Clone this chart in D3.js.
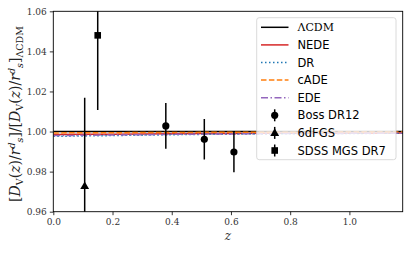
<!DOCTYPE html>
<html>
<head>
<meta charset="utf-8">
<script src="https://cdn.jsdelivr.net/npm/d3@7"></script>
<style>
body { margin: 0; background: #fff; }
text { font-family: "DejaVu Serif", "Liberation Serif", serif; }
</style>
</head>
<body>
<div id="chart-area"></div>
<script>
// model curves, ratio to LCDM
var zGrid = [0, 0.1, 0.2, 0.3, 0.4, 0.5, 0.6, 0.7, 0.8, 0.9, 1.0, 1.1, 1.2];
var lcdm  = [1, 1, 1, 1, 1, 1, 1, 1, 1, 1, 1, 1, 1];
var nede  = [0.9985, 0.9986, 0.9987, 0.9988, 0.9989, 0.999, 0.999, 0.9991, 0.9991, 0.9992, 0.9992, 0.9992, 0.9993];
var dr    = [0.9976, 0.9978, 0.998, 0.9982, 0.9984, 0.9986, 0.9987, 0.9988, 0.9989, 0.999, 0.999, 0.9991, 0.9991];
var cade  = [0.9993, 0.9994, 0.9994, 0.9995, 0.9995, 0.9996, 0.9996, 0.9997, 0.9997, 0.9997, 0.9998, 0.9998, 0.9998];
var ede   = [0.998, 0.9981, 0.9983, 0.9984, 0.9986, 0.9987, 0.9988, 0.9989, 0.999, 0.999, 0.9991, 0.9991, 0.9992];

// BAO data
var bossZ = [0.38, 0.51, 0.61];
var bossV = [1.0028, 0.9961, 0.9898];
var bossE = [0.0114, 0.0101, 0.0101];
var sixdfZ = [0.106], sixdfV = [0.9728], sixdfE = [0.044];
var mgsZ = [0.15], mgsV = [1.048], mgsE = [0.0373];

var xTicks = [0, 0.2, 0.4, 0.6, 0.8, 1.0];
var yTicks = [0.96, 0.98, 1.00, 1.02, 1.04, 1.06];

var W = 414, H = 254;
var svg = d3.select("#chart-area").append("svg")
	.attr("width", W)
	.attr("height", H);

var pL = 53.3, pR = 402.7, pT = 11.3, pB = 211.7;

var x = d3.scaleLinear().domain([0, 1.18]).range([pL, pR]);
var y = d3.scaleLinear().domain([0.96, 1.06]).range([pB, pT]);

var defs = svg.append("defs");
defs.append("clipPath").attr("id", "clip")
	.append("rect")
	.attr("x", pL).attr("y", pT)
	.attr("width", pR - pL).attr("height", pB - pT);

var plot = svg.append("g").attr("clip-path", "url(#clip)");

var models = [
	{name: "ΛCDM", vals: lcdm, color: "#000000", dash: null, w: 1.5},
	{name: "NEDE", vals: nede, color: "#d62728", dash: null, w: 1.5},
	{name: "DR", vals: dr, color: "#1f77b4", dash: "1.5,2.5", w: 1.5},
	{name: "cADE", vals: cade, color: "#ff7f0e", dash: "5.5,2.4", w: 1.5},
	{name: "EDE", vals: ede, color: "#9467bd", dash: "7,2.5,1.5,2.5", w: 1.5}
];

var line = d3.line()
	.x((d) => { return x(d[0]); })
	.y((d) => { return y(d[1]); });

models.forEach((m) => {
	plot.append("path")
		.attr("d", line(zGrid.map((z, i) => { return [z, m.vals[i]]; })))
		.attr("fill", "none")
		.attr("stroke", m.color)
		.attr("stroke-width", m.w)
		.attr("stroke-dasharray", m.dash);
});

function symbol(g, kind, cx, cy) {
	if (kind == "circle") {
		g.append("circle").attr("cx", cx).attr("cy", cy).attr("r", 3.6).attr("fill", "#000");
	} else if (kind == "triangle") {
		g.append("path").attr("d", d3.symbol().type(d3.symbolTriangle).size(34)())
			.attr("transform", "translate(" + cx + "," + (cy + 0.5) + ")").attr("fill", "#000");
	} else {
		g.append("rect").attr("x", cx - 3.3).attr("y", cy - 3.3)
			.attr("width", 6.6).attr("height", 6.6).attr("fill", "#000");
	}
}

var sets = [
	{name: "Boss DR12", z: bossZ, v: bossV, e: bossE, kind: "circle"},
	{name: "6dFGS", z: sixdfZ, v: sixdfV, e: sixdfE, kind: "triangle"},
	{name: "SDSS MGS DR7", z: mgsZ, v: mgsV, e: mgsE, kind: "square"}
];

sets.forEach((s) => {
	s.z.forEach((z, i) => {
		plot.append("line")
			.attr("x1", x(z)).attr("x2", x(z))
			.attr("y1", y(s.v[i] - s.e[i])).attr("y2", y(s.v[i] + s.e[i]))
			.attr("stroke", "#000").attr("stroke-width", 1.5);
		symbol(plot, s.kind, x(z), y(s.v[i]));
	});
});

// axes
var xAxis = d3.axisBottom(x).tickValues(xTicks).tickSize(3.5).tickPadding(3)
	.tickFormat(d3.format(".1f"));
var gx = svg.append("g")
	.attr("transform", "translate(0," + pB + ")")
	.call(xAxis);
var yAxis = d3.axisLeft(y).tickValues(yTicks).tickSize(3.5).tickPadding(3)
	.tickFormat(d3.format(".2f"));
var gy = svg.append("g")
	.attr("transform", "translate(" + pL + ",0)")
	.call(yAxis);
[gx, gy].forEach((g) => {
	g.select(".domain").remove();
	g.selectAll("line").attr("stroke", "#000").attr("stroke-width", 0.8);
	g.selectAll("text").attr("font-size", "9px").attr("fill", "#333")
		.style("font-family", "'DejaVu Serif', serif");
});

svg.append("rect")
	.attr("x", pL).attr("y", pT)
	.attr("width", pR - pL).attr("height", pB - pT)
	.attr("fill", "none").attr("stroke", "#000").attr("stroke-width", 0.9);

// axis labels
svg.append("text")
	.attr("x", (pL + pR) / 2)
	.attr("y", 240)
	.attr("text-anchor", "middle")
	.attr("font-size", "12px")
	.attr("font-style", "italic")
	.attr("fill", "#333")
	.text("z");

var yl = svg.append("text")
	.attr("transform", "translate(20," + 114 + ") rotate(-90)")
	.attr("text-anchor", "middle")
	.attr("fill", "#222")
	.attr("font-size", "14px");
function part(t, opts) {
	var s = yl.append("tspan").text(t);
	if (opts && opts.it) s.attr("font-style", "italic");
	if (opts && opts.dy) s.attr("dy", opts.dy);
	if (opts && opts.fs) s.attr("font-size", opts.fs);
	return s;
}
part("[");
part("D", {it: true});
part("V", {dy: 3, fs: "9.5px"});
part("(", {dy: -3});
part("z", {it: true});
part(")/");
part("r", {it: true});
part("d", {it: true, dy: -5, fs: "9.5px"});
part("s", {it: true, dy: 8, fs: "9.5px"});
part("]/[", {dy: -3});
part("D", {it: true});
part("V", {dy: 3, fs: "9.5px"});
part("(", {dy: -3});
part("z", {it: true});
part(")/");
part("r", {it: true});
part("d", {it: true, dy: -5, fs: "9.5px"});
part("s", {it: true, dy: 8, fs: "9.5px"});
part("]", {dy: -3});
part("ΛCDM", {dy: 3, fs: "9.5px"});

// legend
var lg = svg.append("g");
lg.append("rect")
	.attr("x", 256.7).attr("y", 17.7)
	.attr("width", 139.3).attr("height", 142)
	.attr("rx", 2.5)
	.attr("fill", "#fff").attr("fill-opacity", 0.8)
	.attr("stroke", "#d0d0d0").attr("stroke-width", 0.8);

var rowY = (i) => { return 27.3 + i * 17.6; };
models.forEach((m, i) => {
	lg.append("line")
		.attr("x1", 261).attr("x2", 288.5)
		.attr("y1", rowY(i)).attr("y2", rowY(i))
		.attr("stroke", m.color).attr("stroke-width", m.w)
		.attr("stroke-dasharray", m.dash);
	lg.append("text")
		.attr("x", 297.5).attr("y", rowY(i) + 4)
		.attr("font-size", i == 0 ? "11px" : "11.5px")
		.style("font-family", i == 0 ? "'DejaVu Serif', serif" : "'DejaVu Sans', sans-serif")
		.text(m.name);
});
sets.forEach((s, j) => {
	var i = j + 5, cx = 274.7, cy = rowY(i);
	lg.append("line")
		.attr("x1", cx).attr("x2", cx)
		.attr("y1", cy - 6).attr("y2", cy + 6)
		.attr("stroke", "#000").attr("stroke-width", 1.5);
	symbol(lg, s.kind, cx, cy);
	lg.append("text")
		.attr("x", 297.5).attr("y", cy + 4)
		.attr("font-size", "11.5px")
		.style("font-family", "'DejaVu Sans', sans-serif")
		.text(s.name);
});
</script>
</body>
</html>
